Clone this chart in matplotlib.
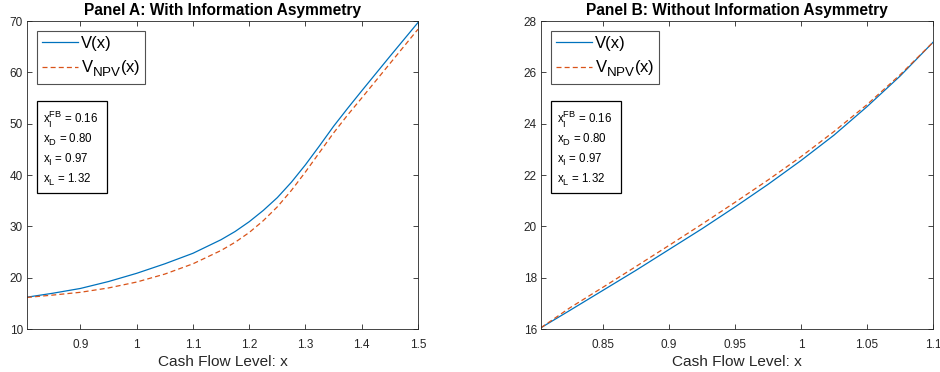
import matplotlib
matplotlib.use("Agg")
import matplotlib.pyplot as plt
from matplotlib.patches import Rectangle
import matplotlib._mathtext as _mt

plt.rcParams['font.family'] = ['Liberation Sans', 'DejaVu Sans']
plt.rcParams['mathtext.fontset'] = 'custom'
plt.rcParams['mathtext.rm'] = 'Liberation Sans'
plt.rcParams['mathtext.it'] = 'Liberation Sans'
plt.rcParams['mathtext.bf'] = 'Liberation Sans:bold'
# MATLAB-style larger, lower subscripts
_mt.SHRINK_FACTOR = 0.8
_mt.FontConstantsBase.sub1 = 0.55
_mt.FontConstantsBase.sub2 = 0.7

# Panel A data
xa = [0.805, 0.85, 0.9, 0.95, 1.0, 1.05, 1.1, 1.15, 1.175, 1.2, 1.225, 1.25, 1.275,
      1.3, 1.325, 1.35, 1.375, 1.4, 1.45, 1.5]
va = [16.2, 16.95, 17.9, 19.25, 20.85, 22.7, 24.75, 27.4, 29.0, 30.9, 33.1, 35.6, 38.6,
      42.0, 45.7, 49.5, 53.0, 56.4, 63.1, 69.7]
npva = [16.15, 16.6, 17.15, 18.0, 19.15, 20.7, 22.7, 25.3, 26.9, 28.8, 31.1, 33.8, 37.0,
        40.6, 44.4, 48.2, 51.7, 55.0, 61.7, 68.4]

# Panel B data
xb = [0.8033, 0.825, 0.85, 0.875, 0.9, 0.925, 0.95, 0.975, 1.0, 1.025, 1.05, 1.075, 1.1]
vb = [16.05, 16.72, 17.50, 18.28, 19.09, 19.90, 20.75, 21.63, 22.56, 23.55, 24.66, 25.85, 27.17]
npvb = [16.05, 16.82, 17.62, 18.43, 19.25, 20.08, 20.93, 21.80, 22.71, 23.69, 24.74, 25.90, 27.17]

info_lines = [
    r'x$_\mathrm{I}^\mathrm{FB}$ = 0.16',
    r'x$_\mathrm{D}$ = 0.80',
    r'x$_\mathrm{I}$ = 0.97',
    r'x$_\mathrm{L}$ = 1.32',
]

blue = '#0072BD'
orange = '#D95319'
dark = '#262626'

fig = plt.figure(figsize=(9.4, 3.72), dpi=100)
W, H = 940, 372
axA = fig.add_axes([27 / W, 1 - 329 / H, (418 - 27) / W, (329 - 21) / H])
axB = fig.add_axes([541 / W, 1 - 329 / H, (933 - 541) / W, (329 - 21) / H])

panels = [
    (axA, xa, va, npva, 'Panel A: With Information Asymmetry', (0.805, 1.5), (10, 70),
     [0.9, 1.0, 1.1, 1.2, 1.3, 1.4, 1.5], ['0.9', '1', '1.1', '1.2', '1.3', '1.4', '1.5'],
     [10, 20, 30, 40, 50, 60, 70]),
    (axB, xb, vb, npvb, 'Panel B: Without Information Asymmetry', (0.8033, 1.1), (16, 28),
     [0.85, 0.9, 0.95, 1.0, 1.05, 1.1], ['0.85', '0.9', '0.95', '1', '1.05', '1.1'],
     [16, 18, 20, 22, 24, 26, 28]),
]

for ax, x, v, npv, title, xl, yl, xt, xtl, yt in panels:
    ax.plot(x, v, color=blue, lw=0.9, label='V(x)')
    ax.plot(x, npv, color=orange, lw=0.9, ls=(0, (4, 2.5)), label=r'V$_\mathrm{NPV}$(x)')
    ax.set_xlim(*xl)
    ax.set_ylim(*yl)
    ax.set_xticks(xt)
    ax.set_xticklabels(xtl)
    ax.set_yticks(yt)
    ax.tick_params(direction='in', length=3.5, width=0.6, labelsize=8.5, colors=dark,
                   top=True, right=True)
    ax.tick_params(axis='x', pad=7)
    ax.tick_params(axis='y', pad=3)
    for s in ax.spines.values():
        s.set_linewidth(0.6)
        s.set_color(dark)
    ax.set_title(title, fontsize=11.2, fontweight='bold', pad=4)
    ax.set_xlabel('Cash Flow Level: x', fontsize=11.1, color=dark, labelpad=3)
    leg = ax.legend(loc='upper left', fontsize=12, frameon=True, fancybox=False,
                    edgecolor=dark, handlelength=2.15, handletextpad=0.2,
                    borderpad=0.3, labelspacing=0.45,
                    bbox_to_anchor=(0.025, 0.968), borderaxespad=0)
    leg.get_frame().set_linewidth(0.8)
    # info box
    ax.add_patch(Rectangle((0.0245, 0.4416), 0.18, 0.2984, transform=ax.transAxes,
                           fill=True, fc='white', ec='black', lw=0.9, zorder=5))
    for ytxt, s in zip([0.671, 0.607, 0.541, 0.477], info_lines):
        ax.text(0.041, ytxt, s, transform=ax.transAxes, fontsize=8.3, va='baseline',
                ha='left', color='black', zorder=6)

fig.savefig('out.png', dpi=100)
